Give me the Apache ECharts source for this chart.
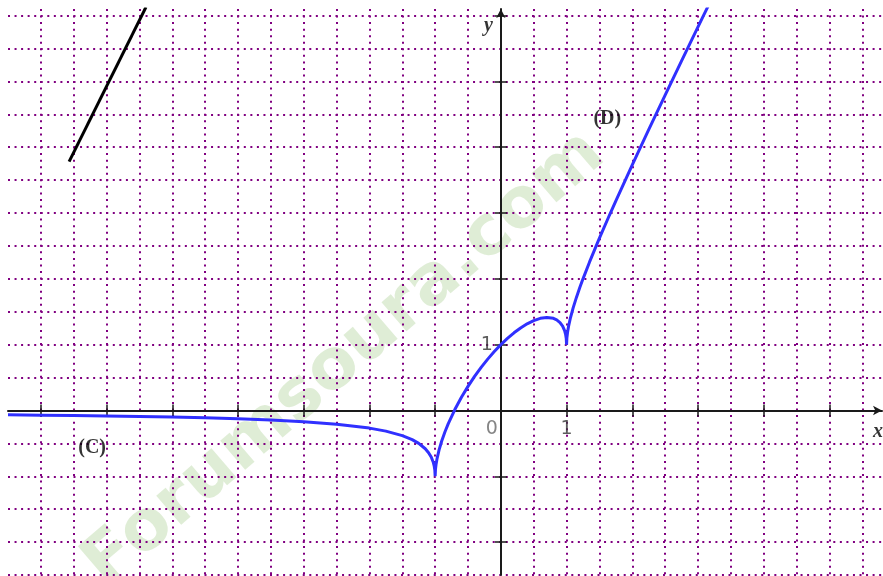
<!DOCTYPE html>
<html><head><meta charset="utf-8">
<script src="https://cdn.jsdelivr.net/npm/echarts@6/dist/echarts.min.js"></script>
<style>html,body{margin:0;padding:0;background:#fff}#c{width:883px;height:576px}</style>
</head><body><div id="c"></div>
<script>
// axis ranges and ticks
const xRange = [-7.5, 5.8];
const yRange = [-2.5, 6.1];
const xTicks = [-7, -6, -5, -4, -3, -2, -1, 1, 2, 3, 4, 5];
const yTicks = [-2, -1, 1, 2, 3, 4, 5, 6];
const xTickLabels = [0, 1];
const yTickLabels = [1];

// blue curve (C) / (D)
const curveX = [-7.5, -7, -6.5, -6, -5.5, -5, -4.5, -4, -3.5, -3, -2.5, -2, -1.75, -1.5, -1.35, -1.25, -1.15, -1.1, -1.06, -1.03, -1.015, -1.005, -1,
  -0.995, -0.985, -0.97, -0.94, -0.9, -0.85, -0.8, -0.7, -0.6, -0.5, -0.4, -0.3, -0.2, -0.1, 0, 0.1, 0.2, 0.3, 0.4, 0.5, 0.6, 0.7, 0.8, 0.85, 0.9, 0.94, 0.97, 0.985, 0.995, 1,
  1.005, 1.015, 1.03, 1.06, 1.1, 1.15, 1.2, 1.25, 1.35, 1.5, 1.65, 1.75, 2, 2.25, 2.5, 2.75, 3, 3.25];
const curveY = [-0.067, -0.072, -0.077, -0.084, -0.092, -0.101, -0.112, -0.127, -0.146, -0.172, -0.209, -0.268, -0.314, -0.382, -0.443, -0.5, -0.582, -0.642, -0.708, -0.783, -0.841, -0.905, -1,
  -0.895, -0.812, -0.727, -0.599, -0.464, -0.323, -0.2, 0.014, 0.2, 0.366, 0.517, 0.654, 0.78, 0.895, 1, 1.095, 1.18, 1.254, 1.317, 1.366, 1.4, 1.414, 1.4, 1.377, 1.336, 1.281, 1.213, 1.158, 1.095, 1,
  1.105, 1.189, 1.277, 1.412, 1.558, 1.718, 1.863, 2.0, 2.257, 2.618, 2.962, 3.186, 3.732, 4.266, 4.791, 5.312, 5.828, 6.342];

// black segment
const segX = [-6.57, -5.40];
const segY = [3.78, 6.13];

// annotations
const noteText = ['(C)', '(D)'];
const noteX = [-6.22, 1.62];
const noteY = [-0.57, 4.43];
const axisNameText = ['x', 'y'];
const axisNameX = [5.74, -0.19];
const axisNameY = [-0.33, 5.85];

const zip = (a, b) => a.map((v, i) => [v, b[i]]);

const gridDot = { color: '#800080', width: 2, type: [2, 4.55], cap: 'butt' };
const axisCol = '#1a1a1a';

const baseX = { type: 'value', min: xRange[0], max: xRange[1], position: 'bottom' };
const baseY = { type: 'value', min: yRange[0], max: yRange[1], position: 'left' };

const tickLabelFont = { fontFamily: 'DejaVu Sans', fontSize: 19, color: '#333' };

const option = {
  animation: false,
  backgroundColor: '#ffffff',
  grid: { left: 8, right: 1, top: 9, bottom: 1, containLabel: false, outerBoundsMode: 'none' },
  xAxis: [
    Object.assign({}, baseX, {
      interval: 0.5,
      axisLine: { show: false, onZero: false },
      axisTick: { show: false }, axisLabel: { show: false },
      splitLine: { show: true, showMinLine: false, showMaxLine: false, lineStyle: gridDot }
    }),
    Object.assign({}, baseX, {
      axisLine: { show: true, onZero: true, onZeroAxisIndex: 1, symbol: ['none', 'arrow'], symbolSize: [7, 9], lineStyle: { color: axisCol, width: 2 } },
      axisTick: { show: true, inside: false, length: 6, customValues: xTicks, lineStyle: { color: axisCol, width: 1.5 } },
      axisLabel: { show: false },
      splitLine: { show: false }
    }),
    Object.assign({}, baseX, {
      axisLine: { show: false, onZero: true, onZeroAxisIndex: 1 },
      axisTick: { show: true, inside: true, length: 6, customValues: xTicks, lineStyle: { color: axisCol, width: 1.5 } },
      axisLabel: { show: false }, splitLine: { show: false }
    })
  ],
  yAxis: [
    Object.assign({}, baseY, {
      interval: 0.5,
      axisLine: { show: false, onZero: false },
      axisTick: { show: false }, axisLabel: { show: false },
      splitLine: { show: true, showMinLine: true, showMaxLine: false, lineStyle: gridDot }
    }),
    Object.assign({}, baseY, {
      axisLine: { show: true, onZero: true, onZeroAxisIndex: 1, symbol: ['none', 'arrow'], symbolSize: [7, 9], lineStyle: { color: axisCol, width: 2 } },
      axisTick: { show: true, inside: false, length: 6, customValues: yTicks, lineStyle: { color: axisCol, width: 1.5 } },
      axisLabel: { show: false },
      splitLine: { show: false }
    }),
    Object.assign({}, baseY, {
      axisLine: { show: false, onZero: true, onZeroAxisIndex: 1 },
      axisTick: { show: true, inside: true, length: 6, customValues: yTicks, lineStyle: { color: axisCol, width: 1.5 } },
      axisLabel: { show: false }, splitLine: { show: false }
    })
  ],
  graphic: {
    elements: [{
      type: 'text', x: 345, y: 360, rotation: 0.71, z: -10, silent: true,
      style: { text: 'Forumsoura.com', font: 'bold 70px "DejaVu Sans"', fill: 'rgba(150,195,120,0.3)', align: 'center', verticalAlign: 'middle' }
    }]
  },
  series: [
    {
      type: 'line', xAxisIndex: 0, yAxisIndex: 0, data: zip(curveX, curveY),
      showSymbol: false, smooth: false, silent: true, clip: true,
      lineStyle: { color: '#3030ff', width: 3 }, z: 5
    },
    {
      type: 'line', xAxisIndex: 0, yAxisIndex: 0, data: zip(segX, segY),
      showSymbol: false, silent: true, clip: true,
      lineStyle: { color: '#000000', width: 3 }, z: 5
    },
    {
      // x tick labels
      type: 'scatter', xAxisIndex: 0, yAxisIndex: 0, silent: true, symbolSize: 1,
      itemStyle: { color: 'rgba(0,0,0,0)' },
      data: xTickLabels.map(v => ({
        name: String(v), value: [v, 0],
        label: v === 0 ? { offset: [-9, 19], color: '#666' } : { offset: [0, 19] }
      })),
      label: Object.assign({ show: true, position: 'inside', formatter: p => p.name }, tickLabelFont),
      z: 6
    },
    {
      // y tick labels
      type: 'scatter', xAxisIndex: 0, yAxisIndex: 0, silent: true, symbolSize: 1,
      itemStyle: { color: 'rgba(0,0,0,0)' },
      data: yTickLabels.map(v => ({ name: String(v), value: [0, v] })),
      label: Object.assign({ show: true, position: 'inside', offset: [-14, 0], formatter: p => p.name }, tickLabelFont),
      z: 6
    },
    {
      type: 'scatter', xAxisIndex: 0, yAxisIndex: 0, silent: true, symbolSize: 1,
      itemStyle: { color: 'rgba(0,0,0,0)' },
      data: noteText.map((t, i) => ({ name: t, value: [noteX[i], noteY[i]] })),
      label: { show: true, position: 'inside', formatter: p => p.name, fontFamily: 'Liberation Serif', fontWeight: 'bold', fontSize: 20, color: '#000' },
      z: 6
    },
    {
      type: 'scatter', xAxisIndex: 0, yAxisIndex: 0, silent: true, symbolSize: 1,
      itemStyle: { color: 'rgba(0,0,0,0)' },
      data: axisNameText.map((t, i) => ({ name: t, value: [axisNameX[i], axisNameY[i]] })),
      label: { show: true, position: 'inside', formatter: p => p.name, fontFamily: 'Liberation Serif', fontWeight: 'bold', fontStyle: 'italic', fontSize: 20, color: '#000' },
      z: 6
    }
  ]
};
const chart = echarts.init(document.getElementById('c'), null, { renderer: 'canvas' });
chart.setOption(option);
</script>
</body></html>
